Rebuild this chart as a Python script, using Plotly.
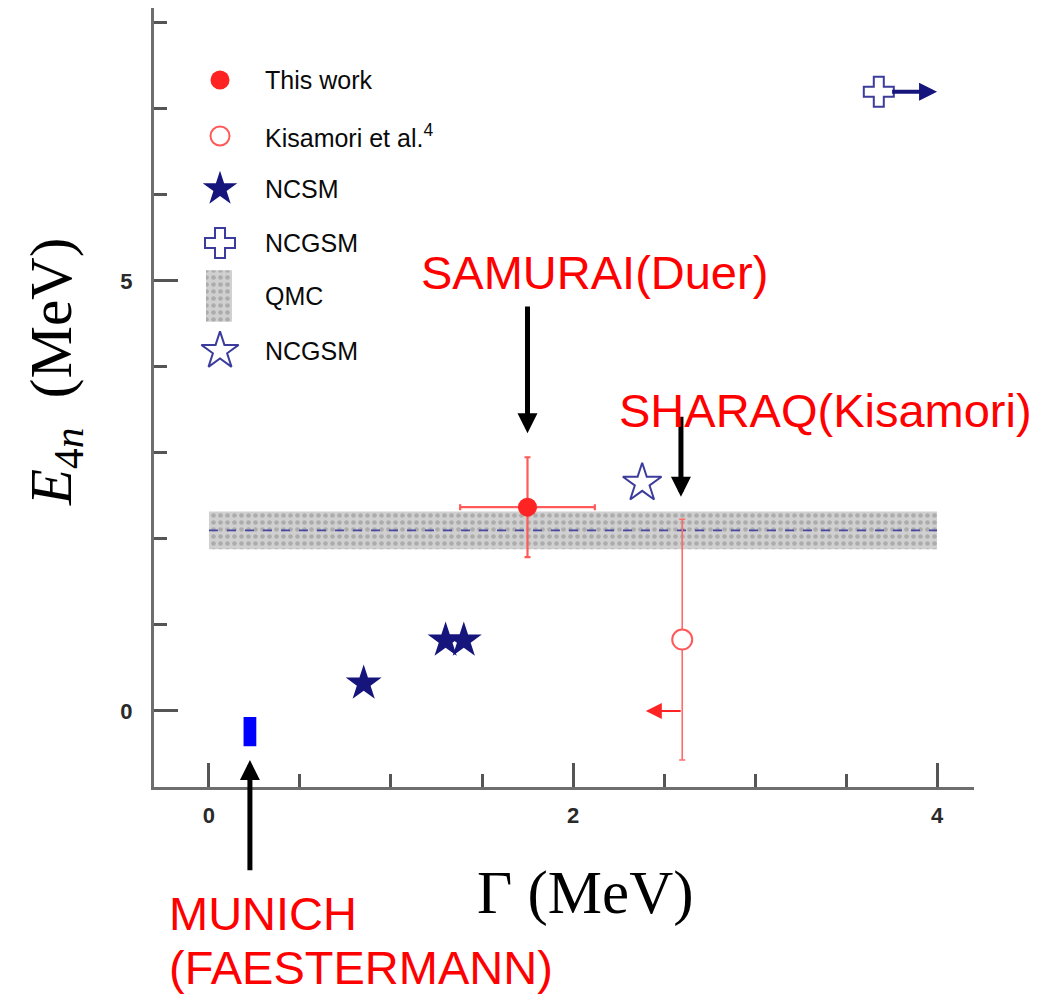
import plotly.graph_objects as go

# ---------------- data ----------------
this_work_G = [1.75]
this_work_E = [2.37]
this_work_dG = [0.37]
this_work_dE = [0.58]

kisamori_G = [2.60]
kisamori_E = [0.83]
kisamori_dE = [1.40]
kisamori_limit_E = 0.0        # Gamma upper-limit arrow drawn at this energy
kisamori_limit_tip_G = 2.40

ncsm_G = [0.85, 1.30, 1.40]
ncsm_E = [0.32, 0.82, 0.82]

ncgsm_star_G = [2.38]
ncgsm_star_E = [2.65]

ncgsm_cross_G = [3.68]
ncgsm_cross_E = [7.20]
ncgsm_cross_arrow_to_G = 4.0

qmc_G_range = [0.0, 4.0]
qmc_E = 2.10
qmc_dE = 0.22

munich_G_range = [0.19, 0.26]
munich_E_range = [-0.41, -0.07]

x_ticks = [0, 2, 4]
y_ticks = [0, 5]

legend_labels = ["This work", "Kisamori et al.<sup>4</sup>", "NCSM", "NCGSM", "QMC", "NCGSM"]

# ---------------- colours ----------------
RED = "#ff2424"
RED_ERR = "#ff5a5a"
NAVY = "#15157c"
NAVY_OPEN = "#3c3c9c"
AXIS = "#6e6e6e"

fig = go.Figure()

# QMC band
qlo, qhi = qmc_E - qmc_dE, qmc_E + qmc_dE
fig.add_trace(go.Scatter(
    x=[qmc_G_range[0], qmc_G_range[1], qmc_G_range[1], qmc_G_range[0], qmc_G_range[0]],
    y=[qlo, qlo, qhi, qhi, qlo],
    mode="lines", fill="toself", fillcolor="#d2d2d2",
    fillpattern=dict(shape=".", fgcolor="#878787", bgcolor="#d0d0d0", size=7, solidity=0.35),
    line=dict(width=0), hoverinfo="skip", showlegend=False))
fig.add_trace(go.Scatter(
    x=qmc_G_range, y=[qmc_E, qmc_E], mode="lines",
    line=dict(color="#4848a0", width=1.6, dash="dash"), hoverinfo="skip", showlegend=False))

# MUNICH (Faestermann) rectangle
fig.add_trace(go.Scatter(
    x=[munich_G_range[0], munich_G_range[1], munich_G_range[1], munich_G_range[0], munich_G_range[0]],
    y=[munich_E_range[0], munich_E_range[0], munich_E_range[1], munich_E_range[1], munich_E_range[0]],
    mode="lines", fill="toself", fillcolor="#0000ff", line=dict(width=0, color="#0000ff"),
    hoverinfo="skip", showlegend=False))

# This work
fig.add_trace(go.Scatter(
    x=this_work_G, y=this_work_E, mode="markers",
    marker=dict(symbol="circle", size=19, color=RED, line=dict(width=0)),
    error_x=dict(type="data", array=this_work_dG, color=RED_ERR, thickness=2.2, width=3),
    error_y=dict(type="data", array=this_work_dE, color=RED_ERR, thickness=2.2, width=3),
    showlegend=False))

# Kisamori
fig.add_trace(go.Scatter(
    x=kisamori_G, y=kisamori_E, mode="markers",
    marker=dict(symbol="circle", size=20, color="white", line=dict(width=2, color=RED_ERR)),
    error_y=dict(type="data", array=kisamori_dE, color="#ff6a6a", thickness=1.6, width=3),
    showlegend=False))

# NCSM
fig.add_trace(go.Scatter(
    x=ncsm_G, y=ncsm_E, mode="markers",
    marker=dict(symbol="star", size=27, color=NAVY, line=dict(width=0)),
    showlegend=False))

# NCGSM star
fig.add_trace(go.Scatter(
    x=ncgsm_star_G, y=ncgsm_star_E, mode="markers",
    marker=dict(symbol="star", size=29, color="white", line=dict(width=2, color=NAVY_OPEN)),
    showlegend=False))

# NCGSM cross
fig.add_trace(go.Scatter(
    x=ncgsm_cross_G, y=ncgsm_cross_E, mode="markers",
    marker=dict(symbol="cross", size=25, color="white", line=dict(width=2, color=NAVY_OPEN)),
    showlegend=False))

# ---------------- hand-made legend (overlay axes 0..1) ----------------
leg_mx = 0.0805
leg_tx = 0.1329
leg_y = [0.9076, 0.8357, 0.7677, 0.6983, 0.6303, 0.5597]
leg_styles = [
    dict(symbol="circle", size=19, color=RED, line=dict(width=0)),
    dict(symbol="circle", size=19, color="white", line=dict(width=2, color=RED_ERR)),
    dict(symbol="star", size=26, color=NAVY, line=dict(width=0)),
    dict(symbol="cross", size=25, color="white", line=dict(width=2, color=NAVY_OPEN)),
    None,
    dict(symbol="star", size=28, color="white", line=dict(width=2, color=NAVY_OPEN)),
]
for yy, st in zip(leg_y, leg_styles):
    if st is None:
        x0, x1 = 0.0634, 0.0951
        y0, y1 = yy - 0.033, yy + 0.033
        fig.add_trace(go.Scatter(
            x=[x0, x1, x1, x0, x0], y=[y0, y0, y1, y1, y0], xaxis="x2", yaxis="y2",
            mode="lines", fill="toself", fillcolor="#d2d2d2",
            fillpattern=dict(shape=".", fgcolor="#878787", bgcolor="#d0d0d0", size=7, solidity=0.35),
            line=dict(width=0), hoverinfo="skip", showlegend=False))
        continue
    fig.add_trace(go.Scatter(x=[leg_mx], y=[yy], xaxis="x2", yaxis="y2", mode="markers",
                             marker=st, hoverinfo="skip", showlegend=False))

annotations = []
for yy, lab in zip(leg_y, legend_labels):
    annotations.append(dict(x=leg_tx, y=yy, xref="paper", yref="paper", text=lab,
                            showarrow=False, xanchor="left", yanchor="middle",
                            font=dict(family="Liberation Sans, Arial", size=25, color="#0a0a0a")))

# ---------------- arrows ----------------
def arrow(x, y, ax, ay, color, width, size):
    return dict(x=x, y=y, ax=ax, ay=ay, xref="x", yref="y", axref="x", ayref="y",
                text="", showarrow=True, arrowhead=2, arrowsize=size, arrowwidth=width,
                arrowcolor=color, standoff=0, startstandoff=0)

annotations += [
    arrow(1.75, 3.23, 1.75, 4.72, "black", 5, 0.8),          # SAMURAI
    arrow(2.593, 2.49, 2.593, 3.44, "black", 5, 0.8),        # SHARAQ
    arrow(0.225, -0.57, 0.225, -1.87, "black", 5, 0.8),      # MUNICH
    arrow(kisamori_limit_tip_G, kisamori_limit_E, kisamori_G[0], kisamori_limit_E, RED, 2, 1.6),
    arrow(ncgsm_cross_arrow_to_G, ncgsm_cross_E[0], 3.745, ncgsm_cross_E[0], NAVY, 4, 0.9),
]

# ---------------- text labels ----------------
red_font = dict(family="Liberation Sans, Arial", size=47, color="#ff0000")
annotations += [
    dict(x=0.5366, y=0.6611, xref="paper", yref="paper", text="SAMURAI(Duer)", showarrow=False,
         xanchor="center", yanchor="middle", font=red_font),
    dict(x=0.8195, y=0.4827, xref="paper", yref="paper", text="SHARAQ(Kisamori)", showarrow=False,
         xanchor="center", yanchor="middle", font=red_font),
    dict(x=0.0159, y=-0.163, xref="paper", yref="paper", text="MUNICH", showarrow=False,
         xanchor="left", yanchor="middle", font=red_font),
    dict(x=0.0159, y=-0.2323, xref="paper", yref="paper", text="(FAESTERMANN)", showarrow=False,
         xanchor="left", yanchor="middle", font=red_font),
    dict(x=0.526, y=-0.1361, xref="paper", yref="paper", text="Γ (MeV)", showarrow=False,
         xanchor="center", yanchor="middle",
         font=dict(family="Liberation Serif, DejaVu Serif, serif", size=61, color="black")),
    dict(x=-0.1207, y=0.5327, xref="paper", yref="paper",
         text="<i>E</i><sub>4<i>n</i></sub>  (MeV)", showarrow=False, textangle=-90,
         xanchor="center", yanchor="middle",
         font=dict(family="Liberation Serif, DejaVu Serif, serif", size=59, color="black")),
]

tick_font = dict(family="Liberation Sans, Arial", size=22, color="#2a2a2a", weight="bold")

# page body has an 8px margin: the figure is sized to fit the window exactly
fig.update_layout(
    width=1042, height=989,
    margin=dict(l=146, r=76, t=0, b=210),
    paper_bgcolor="white", plot_bgcolor="white",
    showlegend=False,
    annotations=annotations,
    xaxis=dict(range=[-0.302, 4.203], tickmode="array", tickvals=x_ticks,
               ticktext=[str(v) for v in x_ticks],
               ticks="inside", ticklen=24, tickwidth=2.5, tickcolor="#555",
               showline=True, linecolor=AXIS, linewidth=3, showgrid=False, zeroline=False,
               minor=dict(ticks="inside", ticklen=13, tickwidth=2.5, tickcolor="#555",
                          dtick=0.5, tick0=0, showgrid=False),
               tickfont=tick_font, ticklabelstandoff=7),
    yaxis=dict(range=[-0.884, 8.174], tickmode="array", tickvals=y_ticks,
               ticktext=[str(v) for v in y_ticks],
               ticks="inside", ticklen=24, tickwidth=2.5, tickcolor="#555",
               showline=True, linecolor=AXIS, linewidth=3, showgrid=False, zeroline=False,
               minor=dict(ticks="inside", ticklen=13, tickwidth=2.5, tickcolor="#555",
                          dtick=1, tick0=0, showgrid=False),
               tickfont=tick_font, ticklabelstandoff=14),
    xaxis2=dict(overlaying="x", range=[0, 1], visible=False, fixedrange=True),
    yaxis2=dict(overlaying="y", range=[0, 1], visible=False, fixedrange=True),
)

fig.write_html("out.html")
